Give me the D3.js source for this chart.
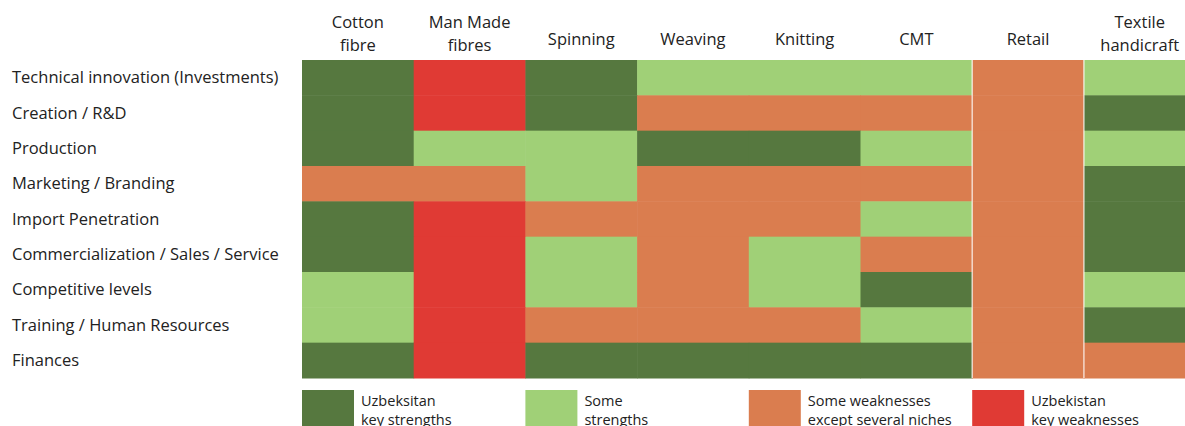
<!DOCTYPE html>
<html lang="en">
<head>
    <meta charset="UTF-8">
    <title>Uzbekistan textile value chain</title>
    <script src="https://d3js.org/d3.v7.min.js"></script>
    <style>
        body { margin: 0; background: #fff; overflow: hidden; }
        svg { display: block; font-family: "Open Sans", "Noto Sans", sans-serif; }
        .label { font-size: 16.5px; fill: #222; }
        .legend-text { font-size: 14.5px; fill: #222; }
    </style>
</head>
<body>
    <svg width="1185" height="426"></svg>

    <script>
        // columns (value chain stages), header split in lines
        const columns = ["Cotton fibre", "Man Made fibres", "Spinning", "Weaving", "Knitting", "CMT", "Retail", "Textile handicraft"];
        const columnLines = [["Cotton", "fibre"], ["Man Made", "fibres"], ["Spinning"], ["Weaving"], ["Knitting"], ["CMT"], ["Retail"], ["Textile", "handicraft"]];

        const rows = [
            "Technical innovation (Investments)",
            "Creation / R&D",
            "Production",
            "Marketing / Branding",
            "Import Penetration",
            "Commercialization / Sales / Service",
            "Competitive levels",
            "Training / Human Resources",
            "Finances"
        ];

        // 3 = key strengths, 2 = some strengths, 1 = some weaknesses, 0 = key weaknesses
        const technical   = [3, 0, 3, 2, 2, 2, 1, 2];
        const creation    = [3, 0, 3, 1, 1, 1, 1, 3];
        const production  = [3, 2, 2, 3, 3, 2, 1, 2];
        const marketing   = [1, 1, 2, 1, 1, 1, 1, 3];
        const importPen   = [3, 0, 1, 1, 1, 2, 1, 3];
        const commercial  = [3, 0, 2, 1, 2, 1, 1, 3];
        const competitive = [2, 0, 2, 1, 2, 3, 1, 2];
        const training    = [2, 0, 1, 1, 1, 2, 1, 3];
        const finances    = [3, 0, 3, 3, 3, 3, 1, 1];
        const values = [technical, creation, production, marketing, importPen, commercial, competitive, training, finances];

        const levels = [3, 2, 1, 0];
        const levelLabels = [["Uzbeksitan", "key strengths"], ["Some", "strengths"], ["Some weaknesses", "except several niches"], ["Uzbekistan", "key weaknesses"]];

        const color = d3.scaleOrdinal()
            .domain(levels)
            .range(["#56783f", "#a0d077", "#da7d4f", "#e03a34"]);

        const svg = d3.select("svg");
        const gridLeft = 302, gridTop = 60, gridBottom = 378;
        const colW = 111.7;

        const x = d3.scaleBand()
            .domain(columns)
            .range([gridLeft, gridLeft + colW * columns.length]);

        const y = d3.scaleBand()
            .domain(rows)
            .range([gridTop, gridBottom]);

        const cells = [];
        rows.forEach((r, i) => {
            columns.forEach((c, j) => cells.push({ row: r, col: c, v: values[i][j] }));
        });

        svg.append("g")
            .selectAll("rect")
            .data(cells)
            .enter().append("rect")
            .attr("x", d => x(d.col))
            .attr("y", d => y(d.row))
            .attr("width", x.bandwidth() + 0.5)
            .attr("height", y.bandwidth() + 0.5)
            .attr("fill", d => color(d.v));

        // retail is one merged block with light borders
        svg.append("g")
            .selectAll("line")
            .data(["Retail"])
            .enter().each(function(c) {
                const g = d3.select(this);
                [x(c), x(c) + x.bandwidth()].forEach(px => {
                    svg.append("line")
                        .attr("x1", px).attr("x2", px)
                        .attr("y1", gridTop).attr("y2", gridBottom)
                        .attr("stroke", "#fff")
                        .attr("stroke-opacity", 0.7)
                        .attr("stroke-width", 1.5);
                });
            });

        // column headers
        const header = svg.append("g")
            .selectAll("text")
            .data(columns)
            .enter().append("text")
            .attr("class", "label")
            .attr("text-anchor", "middle")
            .attr("x", d => x(d) + x.bandwidth() / 2)
            .attr("y", (d, i) => columnLines[i].length > 1 ? 28 : 45);

        header.selectAll("tspan")
            .data((d, i) => columnLines[i])
            .enter().append("tspan")
            .attr("x", function() { return d3.select(this.parentNode).attr("x"); })
            .attr("dy", (d, i) => i === 0 ? 0 : 23)
            .text(d => d);

        // row labels
        svg.append("g")
            .selectAll("text")
            .data(rows)
            .enter().append("text")
            .attr("class", "label")
            .attr("x", 12)
            .attr("y", d => y(d) + y.bandwidth() / 2)
            .attr("dy", ".35em")
            .text(d => d);

        // legend, one entry every two columns
        const legend = svg.append("g")
            .selectAll("g")
            .data(levels)
            .enter().append("g")
            .attr("transform", (d, i) => `translate(${x(columns[i * 2])}, 390)`);

        legend.append("rect")
            .attr("width", 52)
            .attr("height", 40)
            .attr("fill", d => color(d));

        legend.append("text")
            .attr("class", "legend-text")
            .attr("x", 59)
            .attr("y", 16)
            .selectAll("tspan")
            .data((d, i) => levelLabels[i])
            .enter().append("tspan")
            .attr("x", 59)
            .attr("dy", (d, i) => i === 0 ? 0 : 19)
            .text(d => d);
    </script>
</body>
</html>
